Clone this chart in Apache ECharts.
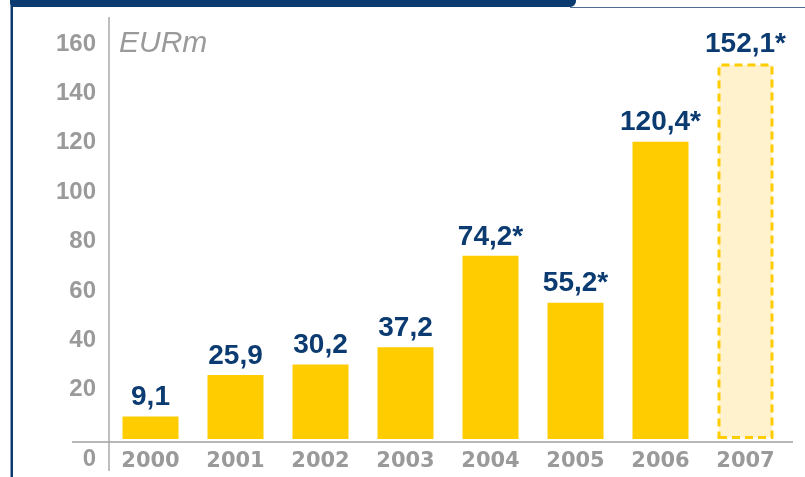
<!DOCTYPE html>
<html>
<head>
<meta charset="utf-8">
<script src="https://cdn.jsdelivr.net/npm/echarts@6/dist/echarts.min.js"></script>
<style>
  html, body { margin: 0; padding: 0; background: #fff; }
  #chart { width: 805px; height: 477px; }
</style>
</head>
<body>
<div id="chart"></div>
<script>
// data
const years = ['2000', '2001', '2002', '2003', '2004', '2005', '2006', '2007']
const revenue = [9.1, 25.9, 30.2, 37.2, 74.2, 55.2, 120.4, 152.1]
const marked = [false, false, false, false, true, true, true, true]   // values with *
const forecast = [false, false, false, false, false, false, false, true]
const yMin = 0
const yMax = 160
const yStep = 20

const NAVY = '#0b3b70'
const GOLD = '#ffcc00'
const GREY = '#9a9a9a'
const FONT = '"Liberation Sans", Arial, sans-serif'

const chart = echarts.init(document.getElementById('chart'))

const barData = revenue.map((v, i) => {
  if (!forecast[i]) return v
  return {
    value: v,
    itemStyle: {
      color: '#fff2cc',
      borderColor: GOLD,
      borderWidth: 3,
      borderType: [8, 5]
    }
  }
})

const option = {
  animation: false,
  grid: { left: 108, right: 17, top: 44, bottom: 38 },
  xAxis: {
    type: 'category',
    data: years,
    offset: 3,
    axisLine: { show: false },
    axisTick: { show: false },
    axisLabel: {
      margin: 9,
      color: GREY,
      fontFamily: '"DejaVu Sans", sans-serif',
      fontWeight: 'bold',
      fontSize: 21
    }
  },
  yAxis: {
    type: 'value',
    min: yMin,
    max: yMax,
    interval: yStep,
    name: 'EURm',
    nameLocation: 'end',
    nameGap: 0,
    nameTextStyle: {
      align: 'left',
      verticalAlign: 'middle',
      color: GREY,
      fontFamily: FONT,
      fontStyle: 'italic',
      fontSize: 30,
      padding: [0, 0, 0, 11]
    },
    splitLine: { show: false },
    axisLine: { show: false },
    axisTick: { show: false },
    axisLabel: {
      margin: 12,
      color: GREY,
      fontFamily: FONT,
      fontWeight: 'bold',
      fontSize: 24,
      formatter: (v) => v === 0 ? '{z|0}' : String(v),
      rich: {
        z: {
          color: GREY,
          fontFamily: FONT,
          fontWeight: 'bold',
          fontSize: 24,
          padding: [40, 0, 0, 0]
        }
      }
    }
  },
  series: [
    {
      type: 'bar',
      data: barData,
      barWidth: 56,
      itemStyle: { color: GOLD },
      label: {
        show: true,
        position: 'top',
        distance: 5,
        color: NAVY,
        fontFamily: FONT,
        fontWeight: 'bold',
        fontSize: 28,
        formatter: (p) => revenue[p.dataIndex].toFixed(1).replace('.', ',') + (marked[p.dataIndex] ? '*' : '')
      }
    }
  ],
  // frame decoration and extended axis lines
  graphic: [
    {
      type: 'rect',
      shape: { x: 10, y: -4, width: 566, height: 11, r: [0, 0, 6, 4] },
      style: { fill: NAVY }
    },
    {
      type: 'rect',
      shape: { x: 10.5, y: 4, width: 2.5, height: 480, r: [3, 0, 0, 0] },
      style: { fill: NAVY }
    },
    {
      type: 'line',
      shape: { x1: 570, y1: 7.5, x2: 805, y2: 7.5 },
      style: { stroke: '#4d6f96', lineWidth: 1 }
    },
    {
      type: 'line',
      shape: { x1: 109, y1: 17, x2: 109, y2: 471 },
      style: { stroke: '#a8a8a8', lineWidth: 1.5 }
    },
    {
      type: 'line',
      shape: { x1: 72, y1: 442, x2: 793, y2: 442 },
      style: { stroke: '#a0a0a0', lineWidth: 1.5 }
    }
  ]
}

chart.setOption(option)
</script>
</body>
</html>
